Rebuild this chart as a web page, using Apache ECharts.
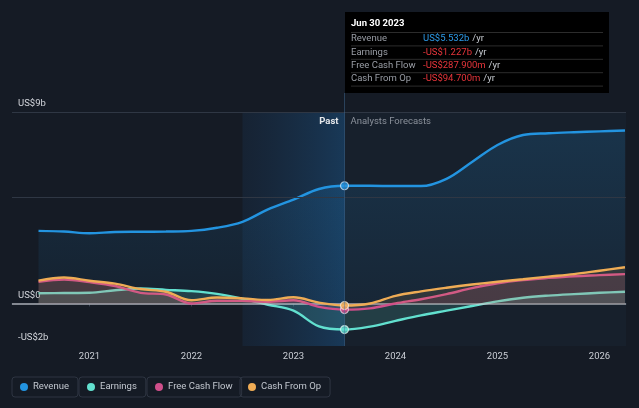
<!DOCTYPE html>
<html>
<head>
<meta charset="utf-8">
<script src="https://cdn.jsdelivr.net/npm/echarts@6/dist/echarts.min.js"></script>
<style>
html,body{margin:0;padding:0;background:#151b25;}
#c{width:639px;height:408px;}
</style>
</head>
<body>
<div id="c"></div>
<script>
// ---- data (US$ billions, x in fractional years) ----
const years = [2020.5, 2020.75, 2021.0, 2021.25, 2021.5, 2021.75, 2022.0, 2022.25, 2022.5, 2022.75, 2023.0, 2023.25, 2023.5,
               2023.75, 2024.0, 2024.25, 2024.5, 2024.75, 2025.0, 2025.25, 2025.5, 2025.75, 2026.0, 2026.25];
const revenue = [3.41, 3.38, 3.30, 3.36, 3.37, 3.38, 3.41, 3.56, 3.84, 4.42, 4.88, 5.38, 5.532,
                 5.53, 5.52, 5.52, 5.86, 6.65, 7.45, 7.92, 8.0, 8.05, 8.09, 8.13];
const earnings = [0.48, 0.49, 0.50, 0.62, 0.70, 0.64, 0.58, 0.45, 0.22, -0.06, -0.34, -1.08, -1.227,
                  -1.09, -0.82, -0.56, -0.34, -0.12, 0.10, 0.27, 0.37, 0.44, 0.50, 0.55];
const freeCashFlow = [1.02, 1.12, 1.00, 0.82, 0.50, 0.42, 0.00, 0.13, 0.12, 0.08, 0.15, -0.16, -0.288,
                      -0.23, 0.00, 0.20, 0.44, 0.72, 0.95, 1.10, 1.20, 1.28, 1.33, 1.38];
const cashFromOp = [1.07, 1.22, 1.07, 0.93, 0.68, 0.55, 0.15, 0.28, 0.24, 0.16, 0.29, 0.04, -0.095,
                    0.00, 0.36, 0.57, 0.74, 0.89, 1.02, 1.14, 1.26, 1.38, 1.54, 1.70];
const lastActualYear = 2023.5;
const pastBandStart = 2022.5;
const xTicks = [2021, 2022, 2023, 2024, 2025, 2026];
const yTicks = [-2, 0, 9];
const yTickLabels = ['-US$2b', 'US$0', 'US$9b'];
const yGridLines = [9, 5];
const seriesNames = ['Revenue', 'Earnings', 'Free Cash Flow', 'Cash From Op'];
const seriesColors = ['#2394e0', '#62e0cf', '#cf4f8b', '#efac55'];
const tooltipDate = 'Jun 30 2023';
const tooltipValues = ['US$5.532b', '-US$1.227b', '-US$287.900m', '-US$94.700m'];
const tooltipValueColors = ['#2d9be8', '#e8353b', '#e8353b', '#e8353b'];

const allSeries = [revenue, earnings, freeCashFlow, cashFromOp];
const X_MIN = 2020.24, X_MAX = 2026.26;

const chart = echarts.init(document.getElementById('c'), null, {renderer: 'canvas'});

function pairs(arr){ return years.map((x, i) => [x, arr[i]]); }
const lastIdx = years.indexOf(lastActualYear);

const areaOpacity = [0.22, 0.16, 0.14, 0.12];

const lineSeries = allSeries.map((arr, k) => ({
  name: seriesNames[k],
  type: 'line',
  data: pairs(arr),
  smooth: 0.35,
  symbol: 'none',
  z: 3 + (k === 0 ? 0 : k),
  lineStyle: {color: seriesColors[k], width: 2.4},
  itemStyle: {color: seriesColors[k]},
  areaStyle: k === 0 ? {
    color: new echarts.graphic.LinearGradient(0, 0, 0, 1, [
      {offset: 0, color: 'rgba(35,148,224,0.24)'},
      {offset: 1, color: 'rgba(35,148,224,0.08)'}
    ])
  } : {color: seriesColors[k], opacity: areaOpacity[k]},
  emphasis: {disabled: true},
  silent: true
}));

// background regions + grid lines on the revenue series
lineSeries[0].markArea = {
  silent: true,
  data: [
    [{xAxis: lastActualYear, itemStyle: {color: '#17202c'}}, {xAxis: X_MAX}],
    [{xAxis: pastBandStart, itemStyle: {color: new echarts.graphic.LinearGradient(0, 0, 1, 0, [
      {offset: 0, color: 'rgba(28,70,115,0.18)'},
      {offset: 1, color: 'rgba(30,105,170,0.38)'}
    ])}}, {xAxis: lastActualYear}]
  ]
};
lineSeries[0].markLine = {
  silent: true,
  symbol: 'none',
  label: {show: false},
  data: yGridLines.map(v => ({yAxis: v, lineStyle: {color: '#2f3744', width: 1, type: 'solid'}}))
};
lineSeries[3].markLine = {
  silent: true,
  symbol: 'none',
  label: {show: false},
  data: [{yAxis: 0, lineStyle: {color: 'rgba(205,208,214,0.75)', width: 1.5, type: 'solid'}}]
};

const markerSeries = {
  name: 'markers',
  type: 'scatter',
  z: 10,
  symbolSize: 8,
  silent: true,
  data: allSeries.map((arr, k) => ({
    value: [lastActualYear, arr[lastIdx]],
    itemStyle: {color: seriesColors[k], borderColor: 'rgba(255,255,255,0.75)', borderWidth: 1.2}
  }))
};

const legendLefts = [12, 79, 147, 240];

const option = {
  backgroundColor: '#151b25',
  animation: false,
  textStyle: {fontFamily: 'Roboto, "Noto Sans", sans-serif'},
  grid: {left: 12, right: 13, top: 112, bottom: 62, containLabel: false},
  xAxis: {
    type: 'value', min: X_MIN, max: X_MAX,
    splitLine: {show: false},
    axisLine: {show: true, lineStyle: {color: '#2f3744', width: 1.5}},
    axisTick: {show: true, customValues: xTicks, length: 3, lineStyle: {color: '#3a4352'}},
    axisLabel: {customValues: xTicks, formatter: v => String(Math.round(v)), color: '#c9cdd4', fontSize: 9.5, margin: 6}
  },
  yAxis: {
    type: 'value', min: -2, max: 9,
    splitLine: {show: false},
    axisLine: {show: false},
    axisTick: {show: false},
    axisLabel: {
      inside: true, customValues: yTicks,
      formatter: v => yTickLabels[yTicks.indexOf(Math.round(v))] || '',
      color: '#d3d6dc', fontSize: 9.5, verticalAlign: 'bottom', margin: 6, padding: [0, 0, 3, 0]
    }
  },
  legend: seriesNames.map((n, i) => ({
    data: [n], left: legendLefts[i], top: 377,
    icon: 'circle', itemWidth: 8, itemHeight: 8, itemGap: 5,
    padding: [5, 9, 5, 8],
    borderColor: '#2e3542', borderWidth: 1, borderRadius: 3,
    selectedMode: false,
    textStyle: {color: '#c3c8d0', fontSize: 9.5}
  })),
  series: [...lineSeries, markerSeries]
};
chart.setOption(option);

// decorations that depend on axis positions
const px = chart.convertToPixel({xAxisIndex: 0}, lastActualYear);
const yBottom = chart.convertToPixel({yAxisIndex: 0}, -2);
const yTop = chart.convertToPixel({yAxisIndex: 0}, 9);

const tipX = 345, tipY = 12, tipW = 264, tipH = 81;
const tipChildren = [
  {type: 'rect', shape: {x: tipX, y: tipY, width: tipW, height: tipH}, style: {fill: '#000000'}},
  {type: 'text', style: {x: 351, y: 24, text: tooltipDate, fill: '#ffffff', fontSize: 9.5, fontWeight: 'bold', verticalAlign: 'middle', fontFamily: 'Roboto, sans-serif'}}
];
for (let i = 0; i <= 4; i++) {
  const ly = 32.5 + i * 13.4;
  tipChildren.push({type: 'line', shape: {x1: 351, y1: ly, x2: 603, y2: ly}, style: {stroke: '#2c2c2c', lineWidth: 1}});
}
seriesNames.forEach((n, i) => {
  const ry = 39 + i * 13.3;
  tipChildren.push({type: 'text', style: {x: 351, y: ry, text: n, fill: '#9a9ea6', fontSize: 9.5, verticalAlign: 'middle', fontFamily: 'Roboto, sans-serif'}});
  tipChildren.push({type: 'text', style: {
    x: 423, y: ry, verticalAlign: 'middle', fontFamily: 'Roboto, sans-serif',
    text: '{v|' + tooltipValues[i] + '} {u|/yr}',
    rich: {v: {fill: tooltipValueColors[i], fontSize: 9.5, fontFamily: 'Roboto, sans-serif'},
           u: {fill: '#c8ccd2', fontSize: 9.5, fontFamily: 'Roboto, sans-serif'}}
  }});
});

chart.setOption({
  graphic: [
    {type: 'line', z: 50, silent: true, shape: {x1: px, y1: tipY + tipH, x2: px, y2: yBottom},
     style: {stroke: 'rgba(70,115,160,0.45)', lineWidth: 1}},
    {type: 'text', z: 100, silent: true, style: {x: px - 6, y: yTop + 10, text: 'Past', fill: '#e6e8eb', fontSize: 9.5, fontWeight: 'bold', align: 'right', verticalAlign: 'middle', fontFamily: 'Roboto, sans-serif'}},
    {type: 'text', z: 100, silent: true, style: {x: px + 6, y: yTop + 10, text: 'Analysts Forecasts', fill: '#8b919b', fontSize: 9.5, align: 'left', verticalAlign: 'middle', fontFamily: 'Roboto, sans-serif'}},
    {type: 'group', z: 100, silent: true, children: tipChildren}
  ]
});
</script>
</body>
</html>
